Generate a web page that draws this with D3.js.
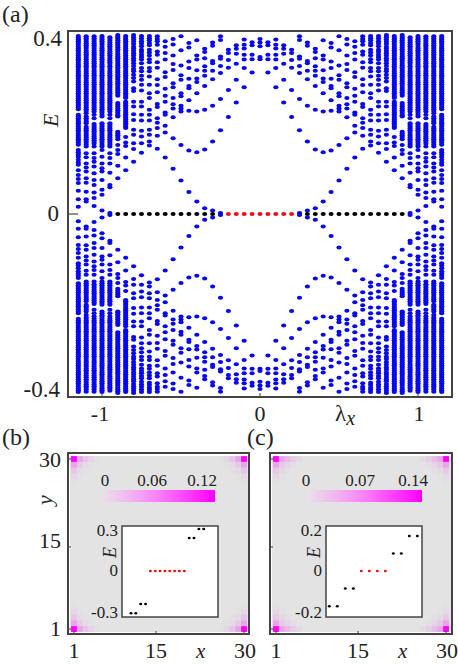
<!DOCTYPE html>
<html><head><meta charset="utf-8">
<style>html,body{margin:0;padding:0;background:#fff}svg{display:block}text{font-family:"Liberation Serif",serif;fill:#222}</style>
<script src="https://cdn.jsdelivr.net/npm/d3@7"></script></head>
<body><svg id="c" width="458" height="664"></svg>
<script>
// Panel (a): positive energies (×1000) per column, k = 0..23, λ = k·0.05; the figure is mirror-symmetric in λ and E
const levelsByColumn = [
[391,383,375,351,346],
[384,377,356,346,316],
[390,378,370,356,345,326,283],
[377,369,358,336,300,249],
[367,360,344,327,277,217],
[397,389,352,347,331,315,257,187,2],
[383,376,342,337,320,301,242,162,8],
[369,362,348,330,320,309,286,233,144,13],
[388,354,345,321,303,295,270,229,138,28],
[382,372,341,326,302,286,281,254,231,142,49],
[397,366,332,310,300,270,263,242,236,229,154,75],
[391,379,354,335,322,292,283,259,245,236,216,169,101],
[386,374,360,345,317,306,280,264,251,227,222,197,182,126],
[397,391,386,378,363,356,339,327,301,288,272,246,239,214,204,192,175,146],
[398,393,388,382,377,367,361,354,346,339,326,319,307,289,270,259,233,222,209,188,177,162,153],
[398,392,386,381,375,367,362,356,351,345,337,326,319,309,300,289,276,251,240,222,209,186,173,158,137],
[400,395,390,385,380,374,369,364,359,354,348,343,337,331,324,319,311,304,296,281,275,251,240,223,210,188,177,158,145,117],
[398,394,390,386,382,378,374,370,366,362,358,354,350,346,342,338,334,330,326,322,318,314,310,306,302,298,294,290,286,282,278,274,270,266,262,259,251,247,243,239,235,231,227,223,219,215,211,207,203,199,195,192,172,160,152,126,98],
[400,396,392,388,384,380,376,372,368,364,360,356,352,348,344,340,336,332,328,324,320,316,312,308,304,300,296,292,288,284,280,276,272,268,264,248,244,240,236,232,228,224,220,218,184,180,176,172,167,154,143,134,108,80],
[395,391,387,383,379,375,371,367,363,359,355,351,347,343,339,335,330,326,322,318,314,310,306,302,298,294,290,286,282,278,274,270,266,262,258,254,250,246,242,238,234,229,222,214,203,199,195,191,187,183,179,175,171,167,163,159,155,151,136,125,113,92,65,60,2],
[398,394,390,386,382,378,374,370,366,362,358,354,350,346,342,338,334,330,326,322,318,314,310,306,302,298,294,290,286,282,278,274,270,266,262,258,254,250,246,242,238,234,230,226,222,218,203,199,195,191,187,183,179,175,171,167,163,159,155,151,143,128,113,102,95,76,54,43,8],
[397,393,389,385,381,377,373,369,365,361,357,353,349,345,341,337,333,330,326,322,318,314,310,306,302,298,294,290,286,282,278,274,270,266,262,258,254,250,246,242,238,234,229,222,214,201,197,193,189,185,181,177,173,169,165,161,157,151,136,125,117,106,91,76,65,48,36,18],
[397,393,389,385,381,377,373,369,365,361,357,353,349,345,341,337,333,330,326,322,318,314,310,306,302,298,294,290,286,282,278,274,270,266,262,258,254,250,246,242,238,234,230,225,218,214,210,206,203,195,191,187,183,179,175,171,167,163,159,155,151,136,127,113,104,95,80,70,50,33,28],
[398,394,390,386,382,378,374,370,366,362,358,354,350,346,342,338,334,330,326,322,318,314,310,306,302,298,294,290,286,282,278,274,270,266,262,258,254,250,246,242,238,234,222,218,214,210,206,203,199,195,191,187,183,179,175,171,167,163,159,155,143,138,133,128,121,115,110,98,87,78,69,52,33,16]
];
const redColumns = [-5,-4,-3,-2,-1,0,1,2,3,4,5];
const blackColumns = [6,7,8,9,10,11,12,13,14,15,16,17,18];
const ticksA = [-1,0,1];
const ticksAE = ["0.4","0","-0.4"];

// Panels (b),(c): corner heat values, colourbars, insets
const cornerHeatB = [[0.125,0.030,0.015,0.006,0.002],[0.030,0.012,0.004,0.002,0],[0.014,0.004,0.002,0,0],[0.006,0.002,0,0,0],[0.002,0,0,0,0]];
const cornerHeatC = [[0.145,0.034,0.022,0.012,0.005],[0.034,0.016,0.008,0.003,0],[0.016,0.006,0.002,0,0],[0.006,0.002,0,0,0],[0.002,0,0,0,0]];
const insetB = [-0.302,-0.302,-0.236,-0.236,0,0,0,0,0,0,0,0,0.236,0.236,0.3,0.3];
const insetC = [-0.168,-0.168,-0.083,-0.083,0,0,0,0,0.083,0.083,0.167,0.167];
const gridTicks = [1,15,30];

const svg = d3.select("#c");
const dark = "#444";
function label(x,y,t,size,opt={}){
  const s = svg.append("text").attr("x",x).attr("y",y).attr("font-size",size).text(t)
    .attr("text-anchor",opt.anchor||"start");
  if(opt.italic) s.attr("font-style","italic");
  if(opt.rot!==undefined) s.attr("transform",`rotate(${opt.rot},${x},${y})`);
  return s;
}

// ---- panel (a)
const xA = d3.scaleLinear().domain([-1,1]).range([102,418]);
const yA = d3.scaleLinear().domain([-0.4,0.4]).range([393,35]);
const pts = [];
levelsByColumn.forEach((col,k)=>{
  col.forEach(e=>{
    [k,-k].forEach((kk,i)=>{ if(i===1&&k===0) return;
      [e,-e].forEach(v=>pts.push({l:kk*0.05,E:v/1000}));
    });
  });
});
const zero = (list,color)=>{
  const rows=[]; list.forEach(k=>{rows.push(k); if(k>0&&!list.includes(-k)) rows.push(-k);});
  return svg.append("g").selectAll("ellipse").data(rows).join("ellipse")
    .attr("cx",k=>xA(k*0.05)).attr("cy",yA(0)).attr("rx",2.5).attr("ry",1.9).attr("fill",color);
};
zero(redColumns,"#f01010");
svg.append("g").selectAll("ellipse").data(pts).join("ellipse")
  .attr("cx",d=>xA(d.l)).attr("cy",d=>yA(d.E)).attr("rx",2.6).attr("ry",2).attr("fill","#0808ee");
zero(blackColumns,"#000");
svg.append("rect").attr("x",68).attr("y",31).attr("width",384).attr("height",366)
  .attr("fill","none").attr("stroke",dark).attr("stroke-width",2);
svg.append("g").selectAll("line").data(ticksA).join("line")
  .attr("x1",d=>xA(d)).attr("x2",d=>xA(d)).attr("y1",397).attr("y2",393).attr("stroke",dark).attr("stroke-width",1);
svg.append("line").attr("x1",68).attr("x2",78).attr("y1",yA(0)).attr("y2",yA(0)).attr("stroke",dark).attr("stroke-width",1.2);
label(2,22,"(a)",24);
label(62,46,ticksAE[0],23,{anchor:"end"});
label(59,221,ticksAE[1],23,{anchor:"end"});
label(60,397,ticksAE[2],23,{anchor:"end"});
ticksA.forEach(t=>label(xA(t)+(t===1?1:0)-(t===-1?2:0),421,t,22,{anchor:"middle"}));
label(58,127,"E",22,{italic:true,rot:-90});
const lam = label(335,421,"λ",23);
lam.append("tspan").attr("font-size",20).attr("dy",4).attr("font-style","italic").text("x");

// ---- panels (b),(c)
const colorMap = d3.scaleLinear().domain([0,1]).range(["#e3e3e3","#ff00ff"]);
function panel(left,tag,tagX,heat,vmax,cbTicks,cb,inset,ins){
  const w=left===68?181:182,h=181,top=453;
  svg.append("rect").attr("x",left+2).attr("y",top+3).attr("width",w-3).attr("height",h-5).attr("fill","#e3e3e3");
  const xs=d3.scaleLinear().domain([1,30]).range([left+6,left+6+170]);
  const ys=d3.scaleLinear().domain([1,30]).range([629,459]);
  const cs=170/29, cells=[];
  heat.forEach((row,j)=>row.forEach((v,i)=>{ if(v>0) [[i+1,j+1],[30-i,j+1],[i+1,30-j],[30-i,30-j]].forEach(([a,b])=>cells.push({a,b,v}));}));
  svg.append("g").selectAll("rect").data(cells).join("rect")
    .attr("x",d=>xs(d.a)-cs/2).attr("y",d=>ys(d.b)-cs/2).attr("width",cs).attr("height",cs)
    .attr("fill",d=>colorMap(Math.min(1,d.v/(vmax*0.85))));
  svg.append("rect").attr("x",left).attr("y",top).attr("width",w).attr("height",h)
    .attr("fill","none").attr("stroke",dark).attr("stroke-width",2);
  gridTicks.forEach(t=>{
    svg.append("line").attr("x1",xs(t)).attr("x2",xs(t)).attr("y1",634).attr("y2",631).attr("stroke",dark);
    svg.append("line").attr("y1",ys(t)).attr("y2",ys(t)).attr("x1",left).attr("x2",left+3).attr("stroke",dark);
    label(xs(t)+(t===30?1:0),658,t,22,{anchor:"middle"});
  });
  label(tagX,445,tag,24);
  label(left+128,658,"x",21,{italic:true});

  // colourbar
  const id="g"+tag.charCodeAt(1);
  const grad=svg.append("defs").append("linearGradient").attr("id",id);
  grad.append("stop").attr("offset","0").attr("stop-color","#ebe0eb");
  grad.append("stop").attr("offset","0.25").attr("stop-color","#f2b4f0");
  grad.append("stop").attr("offset","0.5").attr("stop-color","#fa80fa");
  grad.append("stop").attr("offset","1").attr("stop-color","#ff00ff");
  svg.append("rect").attr("x",cb.x).attr("y",490).attr("width",cb.w).attr("height",12).attr("fill",`url(#${id})`);
  cbTicks.forEach((t,i)=>label(cb.tx[i],486,t,17,{anchor:"middle"}));

  // inset
  const xi=d3.scaleLinear().domain([1,inset.length]).range([ins.x0,ins.x1]);
  const yi=d3.scaleLinear().domain([-ins.m,ins.m]).range([613,529]);
  svg.append("rect").attr("x",ins.left).attr("y",526).attr("width",ins.w).attr("height",91)
    .attr("fill","#fff").attr("stroke",dark).attr("stroke-width",1.5);
  svg.append("g").selectAll("ellipse").data(inset).join("ellipse")
    .attr("cx",(d,i)=>xi(i+1)).attr("cy",d=>yi(d)).attr("rx",1.5).attr("ry",1.2)
    .attr("fill",d=>d===0?"#f01010":"#000");
  [ins.m,0,-ins.m].forEach(v=>{
    label(ins.left-4,yi(v)+(v===ins.m?7:v===0?5:5),String(v),17,{anchor:"end"});
  });
  label(ins.left-6,558,"E",18,{italic:true,rot:-90});
}
panel(68,"(b)",2,cornerHeatB,0.125,[0,0.06,0.12],{x:102,w:113,tx:[105,152,202]},insetB,{left:122,w:96,x0:131,x1:203.7,m:0.3});
panel(270,"(c)",247,cornerHeatC,0.145,[0,0.07,0.14],{x:308,w:114,tx:[306,360,413]},insetC,{left:326,w:96,x0:329.3,x1:417.3,m:0.2});
label(52,505,"y",22,{italic:true,rot:-90});
[[30,467],[15,548],[1,636]].forEach(([t,y])=>label(61,y,t,22,{anchor:"end"}));
</script></body></html>
